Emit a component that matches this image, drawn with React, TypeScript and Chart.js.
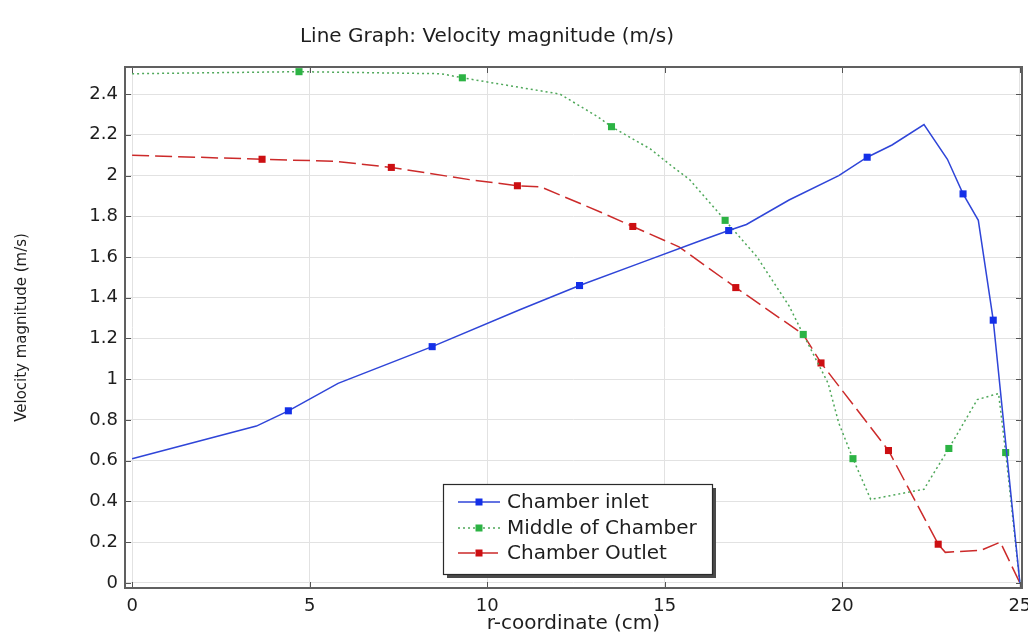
import React, { useEffect, useRef } from "react";
import { Chart, registerables } from "chart.js";

Chart.register(...registerables);

const TITLE = "Line Graph: Velocity magnitude (m/s)";
const X_TITLE = "r-coordinate (cm)";
const Y_TITLE = "Velocity magnitude (m/s)";

const X_TICKS = [0, 5, 10, 15, 20, 25];
const Y_TICKS = [0, 0.2, 0.4, 0.6, 0.8, 1, 1.2, 1.4, 1.6, 1.8, 2, 2.2, 2.4];

// Chamber inlet
const inletLabel = "Chamber inlet";
const inletR = [0, 3.5, 4.4, 5.8, 8.45, 10.9, 12.6, 14.3, 16.0, 16.8, 17.3, 18.5, 19.9, 20.7, 21.4, 22.3, 22.96, 23.4, 23.83, 24.25, 25.0];
const inletV = [0.61, 0.77, 0.845, 0.98, 1.16, 1.34, 1.46, 1.57, 1.68, 1.73, 1.76, 1.88, 2.0, 2.09, 2.15, 2.25, 2.08, 1.91, 1.78, 1.29, 0.0];
const inletMarkers = [2, 4, 6, 9, 13, 17, 19];

// Middle of Chamber
const middleLabel = "Middle of Chamber";
const middleR = [0, 4.7, 8.7, 9.3, 10.5, 12.05, 13.1, 13.5, 14.6, 15.1, 15.7, 16.7, 17.6, 18.5, 18.9, 19.6, 19.9, 20.3, 20.8, 21.4, 22.3, 23.0, 23.8, 24.4, 24.6, 25.0];
const middleV = [2.50, 2.51, 2.50, 2.48, 2.445, 2.40, 2.29, 2.24, 2.13, 2.06, 1.98, 1.78, 1.60, 1.36, 1.22, 0.98, 0.785, 0.61, 0.41, 0.43, 0.46, 0.66, 0.90, 0.93, 0.64, 0.0];
const middleMarkers = [1, 3, 7, 11, 14, 17, 21, 24];

// Chamber Outlet
const outletLabel = "Chamber Outlet";
const outletR = [0, 3.66, 5.7, 7.3, 9.5, 10.85, 11.5, 13.2, 14.1, 15.4, 17.0, 18.9, 19.4, 21.3, 22.7, 22.9, 23.9, 24.45, 25.0];
const outletV = [2.10, 2.08, 2.07, 2.04, 1.98, 1.95, 1.945, 1.82, 1.75, 1.65, 1.45, 1.22, 1.08, 0.65, 0.19, 0.15, 0.16, 0.20, 0.0];
const outletMarkers = [1, 3, 5, 8, 10, 12, 13, 14];

const FONT = "'DejaVu Sans', sans-serif";
const TEXT_COLOR = "#1e1e1e";

const seriesDefs = [
  { label: inletLabel, r: inletR, v: inletV, markers: inletMarkers, line: "#2f45d8", marker: "#1430e8", dash: [] as number[] },
  { label: middleLabel, r: middleR, v: middleV, markers: middleMarkers, line: "#4fa85a", marker: "#2cb344", dash: [2, 3] },
  { label: outletLabel, r: outletR, v: outletV, markers: outletMarkers, line: "#cc2a2a", marker: "#cc0f12", dash: [17, 6] },
];

const framePlugin = {
  id: "frame",
  afterDatasetsDraw(chart: any) {
    const { ctx, chartArea, scales } = chart;
    const { left, right, top, bottom } = chartArea;
    const x = scales.x;
    const y = scales.y;
    ctx.save();
    ctx.strokeStyle = "#555";
    ctx.lineWidth = 1;
    ctx.beginPath();
    for (const t of X_TICKS) {
      const px = Math.round(x.getPixelForValue(t)) + 0.5;
      ctx.moveTo(px, bottom);
      ctx.lineTo(px, bottom - 6);
      ctx.moveTo(px, top);
      ctx.lineTo(px, top + 6);
    }
    for (const t of Y_TICKS) {
      const py = Math.round(y.getPixelForValue(t)) + 0.5;
      ctx.moveTo(left, py);
      ctx.lineTo(left + 6, py);
      ctx.moveTo(right, py);
      ctx.lineTo(right - 6, py);
    }
    ctx.stroke();
    ctx.lineWidth = 2;
    ctx.strokeStyle = "#606060";
    ctx.strokeRect(left, top, right - left, bottom - top);
    ctx.restore();
  },
};

const legendTitlePlugin = {
  id: "legendTitle",
  afterDraw(chart: any) {
    const { ctx } = chart;
    ctx.save();
    // Title
    ctx.font = `20px ${FONT}`;
    ctx.fillStyle = TEXT_COLOR;
    ctx.textAlign = "center";
    ctx.textBaseline = "middle";
    ctx.fillText(TITLE, 487, 37);

    // Legend box
    const bx = 443, by = 484, bw = 269, bh = 90;
    ctx.fillStyle = "#4a4a4a";
    ctx.fillRect(bx + 4, by + 4, bw, bh);
    ctx.fillStyle = "#ffffff";
    ctx.fillRect(bx, by, bw, bh);
    ctx.strokeStyle = "#2a2a2a";
    ctx.lineWidth = 1.2;
    ctx.strokeRect(bx + 0.5, by + 0.5, bw, bh);

    const rows = [502, 528, 553];
    chart.data.datasets.forEach((ds: any, i: number) => {
      const def = seriesDefs[i];
      const ry = rows[i];
      ctx.strokeStyle = def.line;
      ctx.lineWidth = 1.5;
      ctx.setLineDash(def.dash);
      ctx.beginPath();
      ctx.moveTo(458, ry);
      ctx.lineTo(500, ry);
      ctx.stroke();
      ctx.setLineDash([]);
      ctx.fillStyle = def.marker;
      ctx.fillRect(479 - 3.5, ry - 3.5, 7, 7);
      ctx.fillStyle = TEXT_COLOR;
      ctx.textAlign = "left";
      ctx.textBaseline = "middle";
      ctx.font = `20px ${FONT}`;
      ctx.fillText(ds.label, 507, ry + 1);
    });
    ctx.restore();
  },
};

export default function App() {
  const canvasRef = useRef<HTMLCanvasElement | null>(null);

  useEffect(() => {
    const canvas = canvasRef.current;
    if (!canvas) return;
    const datasets = seriesDefs.map((s) => ({
      label: s.label,
      data: s.r.map((r, i) => ({ x: r, y: s.v[i] })),
      borderColor: s.line,
      backgroundColor: s.marker,
      borderWidth: 1.5,
      borderDash: s.dash,
      pointStyle: "rect" as const,
      pointRadius: s.r.map((_, i) => (s.markers.includes(i) ? 5 : 0)),
      pointBorderWidth: 0,
      pointBackgroundColor: s.marker,
      pointBorderColor: s.marker,
      pointHoverRadius: 0,
      tension: 0,
      fill: false,
    }));

    const chart = new Chart(canvas, {
      type: "line",
      data: { datasets },
      plugins: [framePlugin, legendTitlePlugin],
      options: {
        responsive: false,
        animation: false,
        events: [],
        layout: { padding: { top: 67, right: 6, left: 0, bottom: 0 } },
        plugins: {
          legend: { display: false },
          title: { display: false },
          tooltip: { enabled: false },
        },
        scales: {
          x: {
            type: "linear",
            min: -0.2,
            max: 25.06,
            afterBuildTicks: (scale: any) => {
              scale.ticks = X_TICKS.map((v) => ({ value: v }));
            },
            afterFit: (scale: any) => {
              scale.height = 48;
              scale.paddingLeft = 0;
              scale.paddingRight = 0;
            },
            grid: { color: "#e2e2e2", lineWidth: 1, drawTicks: false },
            border: { display: false },
            ticks: {
              padding: 8,
              color: TEXT_COLOR,
              font: { family: FONT, size: 18 },
              maxRotation: 0,
              callback: (v: any) => String(v),
            },
            title: {
              display: true,
              text: X_TITLE,
              color: TEXT_COLOR,
              font: { family: FONT, size: 20 },
              padding: { top: 0, bottom: 0 },
            },
          },
          y: {
            type: "linear",
            min: -0.025,
            max: 2.533,
            afterBuildTicks: (scale: any) => {
              scale.ticks = Y_TICKS.map((v) => ({ value: v }));
            },
            afterFit: (scale: any) => {
              scale.width = 125;
              scale.paddingTop = 0;
              scale.paddingBottom = 0;
            },
            grid: { color: "#e2e2e2", lineWidth: 1, drawTicks: false },
            border: { display: false },
            ticks: {
              padding: 7,
              color: TEXT_COLOR,
              font: { family: FONT, size: 18 },
              callback: (v: any) => String(+Number(v).toFixed(1)),
            },
            title: {
              display: true,
              text: Y_TITLE,
              color: TEXT_COLOR,
              font: { family: FONT, size: 15 },
              padding: { top: 13, bottom: 0 },
            },
          },
        },
      },
    });
    return () => chart.destroy();
  }, []);

  return (
    <div style={{ position: "fixed", left: 0, top: 0, width: 1028, height: 636, background: "#ffffff" }}>
      <canvas ref={canvasRef} width={1028} height={636} style={{ display: "block" }} />
    </div>
  );
}
